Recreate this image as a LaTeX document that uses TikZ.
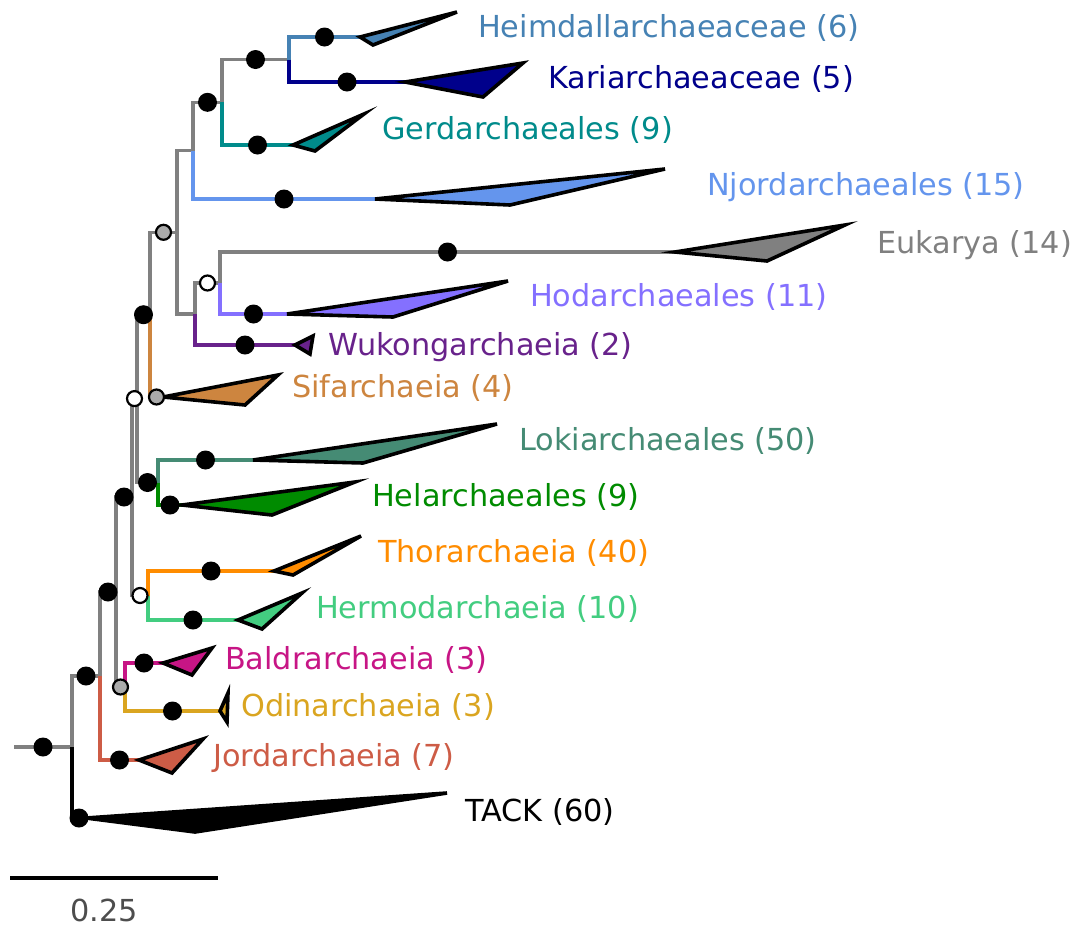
\documentclass[tikz,border=0pt]{standalone}
\usepackage{fontspec}
\setmainfont{DejaVu Sans}
\usetikzlibrary{calc}

\definecolor{treegray}{RGB}{128,128,128}
\definecolor{heimc}{RGB}{70,130,180}
\definecolor{karic}{RGB}{0,0,139}
\definecolor{gerdc}{RGB}{0,139,139}
\definecolor{njordc}{RGB}{100,149,237}
\definecolor{eukc}{RGB}{128,128,128}
\definecolor{hodc}{RGB}{132,112,255}
\definecolor{wukc}{RGB}{104,34,139}
\definecolor{sifc}{RGB}{205,133,63}
\definecolor{lokic}{RGB}{69,139,116}
\definecolor{helc}{RGB}{0,139,0}
\definecolor{thorc}{RGB}{255,140,0}
\definecolor{hermc}{RGB}{67,205,128}
\definecolor{baldrc}{RGB}{199,21,133}
\definecolor{odinc}{RGB}{218,165,32}
\definecolor{jordc}{RGB}{205,92,70}
\definecolor{scalec}{RGB}{77,77,77}
\definecolor{dotgray}{RGB}{170,170,170}

% dot on the middle of the horizontal part of an edge parent -> child
\newcommand\edgedot[3]{\node[#1] (d#3) at ($(#2|-#3)!.5!(#3)$) {};}

\begin{document}
\begin{tikzpicture}[x=1pt,y=-1pt,
  edge/.style={line width=3.4pt},
  clade/.style={draw=black,line width=3.6pt,line join=miter},
  bdot/.style={circle,fill=black,inner sep=0pt,minimum size=19pt},
  gdot/.style={circle,fill=dotgray,draw=black,line width=2.2pt,inner sep=0pt,minimum size=15pt},
  wdot/.style={circle,fill=white,draw=black,line width=2.2pt,inner sep=0pt,minimum size=15pt},
  lab/.style={anchor=base west,inner sep=0pt,font=\fontsize{30.3}{36}\selectfont}]
\useasboundingbox (0,0) rectangle (1076,927);

% internal nodes of the tree
\coordinate (r0)  at (14,747);
\coordinate (n1)  at (72,747);
\coordinate (n2)  at (100,676);
\coordinate (n3)  at (116,592);
\coordinate (bo)  at (125,687);
\coordinate (n4)  at (132,497);
\coordinate (th)  at (148,595.5);
\coordinate (n5)  at (137,398.6);
\coordinate (lh)  at (158,482.5);
\coordinate (n6)  at (150,314.7);
\coordinate (n7)  at (177,232.3);
\coordinate (n8)  at (193,150.6);
\coordinate (n10) at (222,102.3);
\coordinate (n11) at (289,59.5);
\coordinate (n9)  at (195,314);
\coordinate (n12) at (220,283);

% collapsed clades (triangle apex)
\coordinate (heim)  at (360,37);
\coordinate (kari)  at (405,82);
\coordinate (gerd)  at (293,145);
\coordinate (njord) at (375,199);
\coordinate (euk)   at (675,252);
\coordinate (hod)   at (287,314);
\coordinate (wuk)   at (295,345);
\coordinate (sif)   at (163,397);
\coordinate (loki)  at (253,460);
\coordinate (hel)   at (182,505);
\coordinate (thor)  at (274,571);
\coordinate (herm)  at (238,620);
\coordinate (baldr) at (163,663);
\coordinate (odin)  at (220,711);
\coordinate (jord)  at (139,760);
\coordinate (tack)  at (86,818);

% branches
\draw[edge,treegray] (r0) -- (n1);
\draw[edge,black]    (n1) |- (tack);
\draw[edge,treegray] (n1) |- (n2);
\draw[edge,jordc]    (n2) |- (jord);
\draw[edge,treegray] (n2) |- (n3);
\draw[edge,treegray] (n3) |- (bo);
\draw[edge,baldrc]   (bo) |- (baldr);
\draw[edge,odinc]    (bo) |- (odin);
\draw[edge,treegray] (n3) |- (n4);
\draw[edge,treegray] (n4) |- (th);
\draw[edge,thorc]    (th) |- (thor);
\draw[edge,hermc]    (th) |- (herm);
\draw[edge,treegray] (n4) |- (n5);
\draw[edge,treegray] (n5) |- (lh);
\draw[edge,lokic]    (lh) |- (loki);
\draw[edge,helc]     (lh) |- (hel);
\draw[edge,treegray] (n5) |- (n6);
\draw[edge,sifc]     (n6) |- (sif);
\draw[edge,treegray] (n6) |- (n7);
\draw[edge,treegray] (n7) |- (n8);
\draw[edge,treegray] (n7) |- (n9);
\draw[edge,njordc]   (n8) |- (njord);
\draw[edge,treegray] (n8) |- (n10);
\draw[edge,gerdc]    (n10) |- (gerd);
\draw[edge,treegray] (n10) |- (n11);
\draw[edge,heimc]    (n11) |- (heim);
\draw[edge,karic]    (n11) |- (kari);
\draw[edge,treegray] (n9) |- (n12);
\draw[edge,wukc]     (n9) |- (wuk);
\draw[edge,treegray] (n12) |- (euk);
\draw[edge,hodc]     (n12) |- (hod);

% collapsed clade triangles
\draw[clade,fill=heimc]  (heim)  -- (457,12)  -- (373,45)  -- cycle;
\draw[clade,fill=karic]  (kari)  -- (523,63)  -- (483,97)  -- cycle;
\draw[clade,fill=gerdc]  (gerd)  -- (364,114) -- (315,151) -- cycle;
\draw[clade,fill=njordc] (njord) -- (665,169) -- (510,205) -- cycle;
\draw[clade,fill=eukc]   (euk)   -- (845,225) -- (767,261) -- cycle;
\draw[clade,fill=hodc]   (hod)   -- (508,281) -- (393,317) -- cycle;
\draw[clade,fill=wukc]   (wuk)   -- (313,336) -- (310,354) -- cycle;
\draw[clade,fill=sifc]   (sif)   -- (278,375) -- (245,405) -- cycle;
\draw[clade,fill=lokic]  (loki)  -- (497,424) -- (363,463) -- cycle;
\draw[clade,fill=helc]   (hel)   -- (355,482) -- (272,515) -- cycle;
\draw[clade,fill=thorc]  (thor)  -- (361,536) -- (293,575) -- cycle;
\draw[clade,fill=hermc]  (herm)  -- (302,593) -- (262,629) -- cycle;
\draw[clade,fill=baldrc] (baldr) -- (212,648) -- (192,675) -- cycle;
\draw[clade,fill=odinc]  (odin)  -- (228,693) -- (227,722) -- cycle;
\draw[clade,fill=jordc]  (jord)  -- (203,739) -- (172,773) -- cycle;
\draw[clade,fill=black]  (tack)  -- (447,793) -- (195,832) -- cycle;

% branch support
\node[bdot] (droot) at ($(r0)!.5!(n1)$) {};
\edgedot{bdot}{n1}{tack}
\edgedot{bdot}{n1}{n2}
\edgedot{bdot}{n2}{jord}
\edgedot{bdot}{n2}{n3}
\edgedot{gdot}{n3}{bo}
\edgedot{bdot}{bo}{baldr}
\edgedot{bdot}{bo}{odin}
\edgedot{bdot}{n3}{n4}
\edgedot{wdot}{n4}{th}
\edgedot{bdot}{th}{thor}
\edgedot{bdot}{th}{herm}
\edgedot{wdot}{n4}{n5}
\edgedot{bdot}{n5}{lh}
\edgedot{bdot}{lh}{loki}
\edgedot{bdot}{lh}{hel}
\edgedot{bdot}{n5}{n6}
\edgedot{gdot}{n6}{sif}
\edgedot{gdot}{n6}{n7}
\edgedot{bdot}{n8}{njord}
\edgedot{bdot}{n8}{n10}
\edgedot{bdot}{n10}{gerd}
\edgedot{bdot}{n10}{n11}
\edgedot{bdot}{n11}{heim}
\edgedot{bdot}{n11}{kari}
\edgedot{wdot}{n9}{n12}
\edgedot{bdot}{n9}{wuk}
\edgedot{bdot}{n12}{euk}
\edgedot{bdot}{n12}{hod}

% clade labels
\node[lab,text=heimc]  (lheim)  at (478,37)  {Heimdallarchaeaceae (6)};
\node[lab,text=karic]  (lkari)  at (548,88)  {Kariarchaeaceae (5)};
\node[lab,text=gerdc]  (lgerd)  at (382,139) {Gerdarchaeales (9)};
\node[lab,text=njordc] (lnjord) at (707,195) {Njordarchaeales (15)};
\node[lab,text=eukc]   (leuk)   at (877,253) {Eukarya (14)};
\node[lab,text=hodc]   (lhod)   at (530,306) {Hodarchaeales (11)};
\node[lab,text=wukc]   (lwuk)   at (328,355) {Wukongarchaeia (2)};
\node[lab,text=sifc]   (lsif)   at (292,397) {Sifarchaeia (4)};
\node[lab,text=lokic]  (lloki)  at (519,450) {Lokiarchaeales (50)};
\node[lab,text=helc]   (lhel)   at (372,506) {Helarchaeales (9)};
\node[lab,text=thorc]  (lthor)  at (378,562) {Thorarchaeia (40)};
\node[lab,text=hermc]  (lherm)  at (316,618) {Hermodarchaeia (10)};
\node[lab,text=baldrc] (lbaldr) at (225,669) {Baldrarchaeia (3)};
\node[lab,text=odinc]  (lodin)  at (241,716) {Odinarchaeia (3)};
\node[lab,text=jordc]  (ljord)  at (213,766) {Jordarchaeia (7)};
\node[lab,text=black]  (ltack)  at (465,821) {TACK (60)};

% scale bar
\coordinate (sb1) at (10,878);
\coordinate (sb2) at (218,878);
\draw[line width=3.4pt,black] (sb1) -- (sb2);
\node[lab,anchor=base,text=scalec] (lscale) at (104,921) {0.25};
\end{tikzpicture}
\end{document}
